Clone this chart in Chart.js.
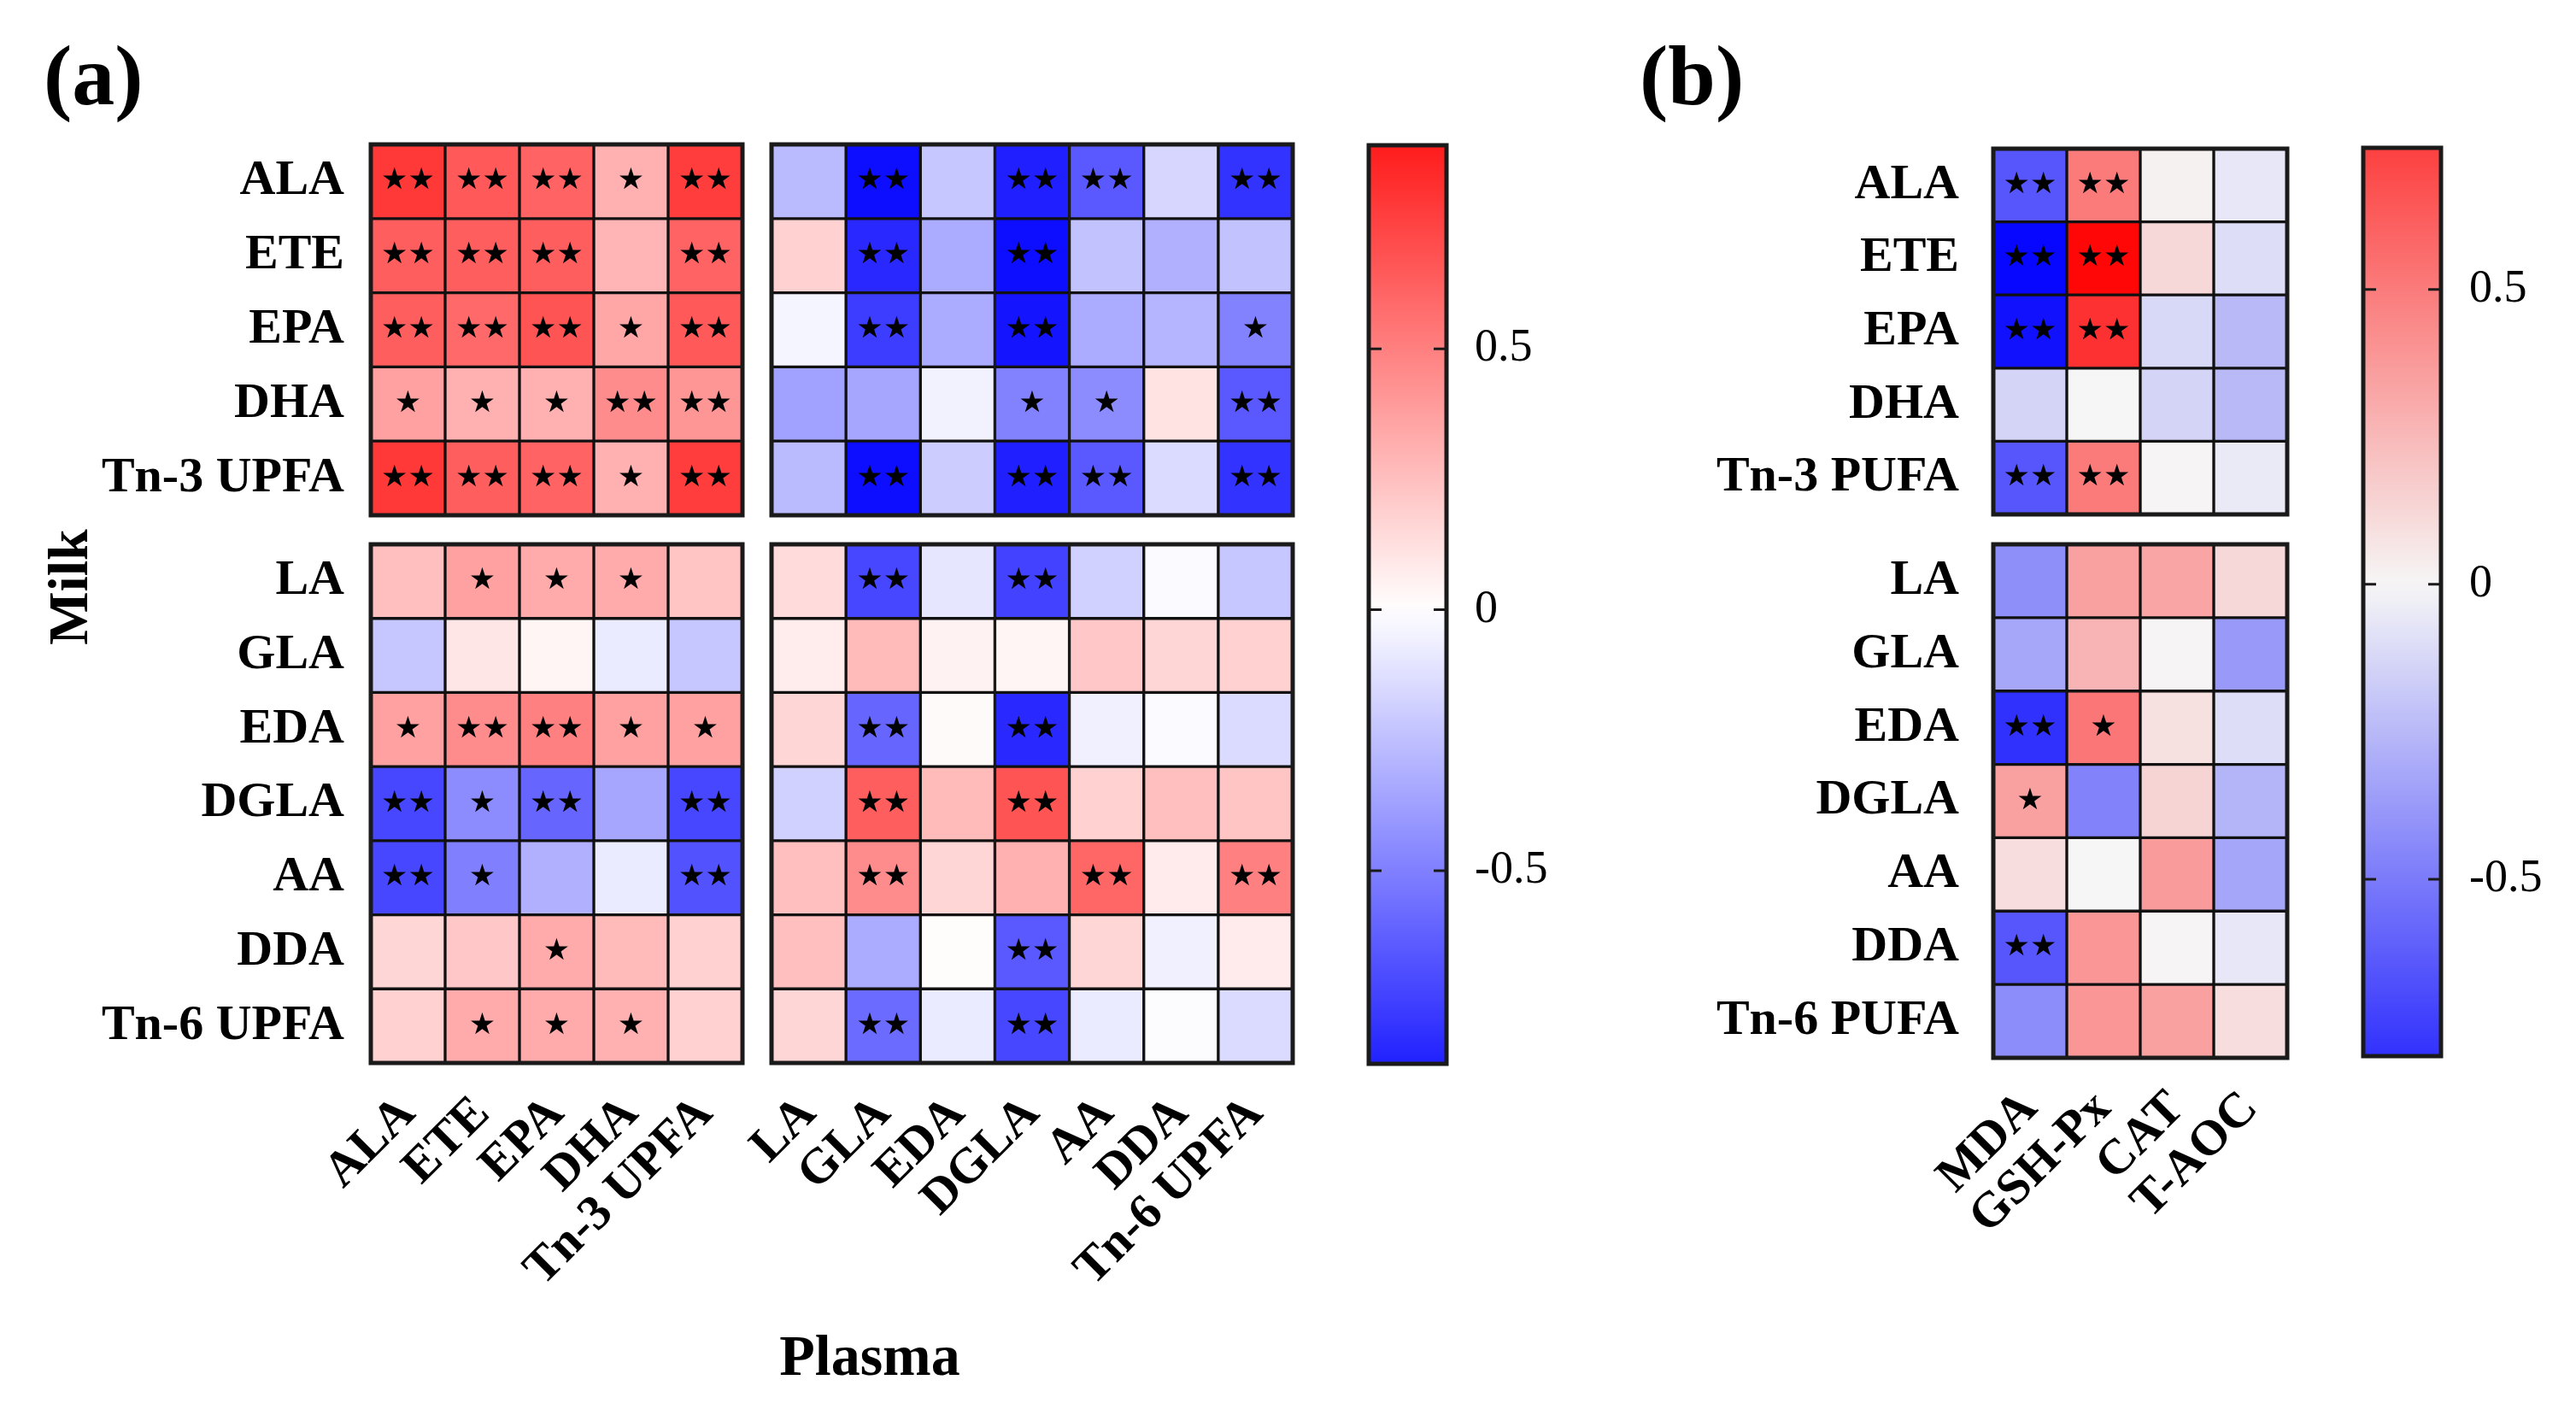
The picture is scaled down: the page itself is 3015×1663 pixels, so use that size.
<!DOCTYPE html>
<html>
<head>
<meta charset="utf-8">
<script src="https://cdn.jsdelivr.net/npm/chart.js@4.4.1/dist/chart.umd.min.js"></script>
<style>
  body { margin: 0; background: #fff; width: 3015px; height: 1663px; position: relative; overflow: hidden;
         font-family: "Liberation Serif", "Times New Roman", serif; }
  canvas { position: absolute; }
  .lbl { position: absolute; font-weight: bold; line-height: 1; white-space: nowrap; color: #000; }
</style>
</head>
<body>
<div class="lbl" style="left:51px;top:39px;font-size:100px">(a)</div>
<div class="lbl" style="left:1919px;top:39px;font-size:100px">(b)</div>
<div class="lbl" style="left:80px;top:687px;font-size:66px;transform:translate(-50%,-50%) rotate(-90deg)">Milk</div>
<div class="lbl" style="left:1018px;top:1586px;font-size:68px;transform:translate(-50%,-50%)">Plasma</div>

<canvas id="aTL"></canvas>
<canvas id="aTR"></canvas>
<canvas id="aBL"></canvas>
<canvas id="aBR"></canvas>
<canvas id="aBar"></canvas>
<canvas id="bT"></canvas>
<canvas id="bB"></canvas>
<canvas id="bBar"></canvas>

<script>
// Row / column names
const n3Names = ['ALA', 'ETE', 'EPA', 'DHA', 'Tn-3 UPFA'];
const n6Names = ['LA', 'GLA', 'EDA', 'DGLA', 'AA', 'DDA', 'Tn-6 UPFA'];
const n3NamesB = ['ALA', 'ETE', 'EPA', 'DHA', 'Tn-3 PUFA'];
const n6NamesB = ['LA', 'GLA', 'EDA', 'DGLA', 'AA', 'DDA', 'Tn-6 PUFA'];
const oxidNames = ['MDA', 'GSH-Px', 'CAT', 'T-AOC'];
const barTicks = [-0.5, 0, 0.5];

// (a) milk n-3 vs plasma n-3
const rN3N3 = [
    [0.78, 0.65, 0.61, 0.31, 0.76],
    [0.63, 0.63, 0.63, 0.29, 0.61],
    [0.63, 0.59, 0.67, 0.35, 0.65],
    [0.37, 0.31, 0.31, 0.45, 0.41],
    [0.78, 0.63, 0.61, 0.31, 0.76]
];
const sN3N3 = [
    ['**', '**', '**', '*', '**'],
    ['**', '**', '**', '', '**'],
    ['**', '**', '**', '*', '**'],
    ['*', '*', '*', '**', '**'],
    ['**', '**', '**', '*', '**']
];
// (a) milk n-3 vs plasma n-6
const rN3N6 = [
    [-0.27, -0.95, -0.22, -0.88, -0.65, -0.16, -0.80],
    [0.18, -0.84, -0.33, -0.95, -0.24, -0.31, -0.24],
    [-0.04, -0.76, -0.33, -0.92, -0.33, -0.29, -0.49],
    [-0.37, -0.35, -0.05, -0.49, -0.45, 0.11, -0.65],
    [-0.27, -0.95, -0.20, -0.88, -0.65, -0.14, -0.80]
];
const sN3N6 = [
    ['', '**', '', '**', '**', '', '**'],
    ['', '**', '', '**', '', '', ''],
    ['', '**', '', '**', '', '', '*'],
    ['', '', '', '*', '*', '', '**'],
    ['', '**', '', '**', '**', '', '**']
];
// (a) milk n-6 vs plasma n-3
const rN6N3 = [
    [0.25, 0.37, 0.33, 0.33, 0.23],
    [-0.22, 0.10, 0.04, -0.08, -0.22],
    [0.37, 0.45, 0.50, 0.37, 0.37],
    [-0.72, -0.45, -0.60, -0.35, -0.72],
    [-0.72, -0.50, -0.31, -0.08, -0.68],
    [0.16, 0.22, 0.33, 0.27, 0.18],
    [0.18, 0.33, 0.33, 0.31, 0.18]
];
const sN6N3 = [
    ['', '*', '*', '*', ''],
    ['', '', '', '', ''],
    ['*', '**', '**', '*', '*'],
    ['**', '*', '**', '', '**'],
    ['**', '*', '', '', '**'],
    ['', '', '*', '', ''],
    ['', '*', '*', '*', '']
];
// (a) milk n-6 vs plasma n-6
const rN6N6 = [
    [0.14, -0.72, -0.10, -0.74, -0.18, -0.02, -0.22],
    [0.07, 0.27, 0.05, 0.04, 0.22, 0.16, 0.18],
    [0.16, -0.60, 0.02, -0.84, -0.06, -0.02, -0.14],
    [-0.18, 0.63, 0.27, 0.67, 0.18, 0.25, 0.23],
    [0.25, 0.45, 0.16, 0.31, 0.60, 0.08, 0.50],
    [0.25, -0.33, 0.01, -0.65, 0.16, -0.06, 0.08],
    [0.16, -0.58, -0.08, -0.72, -0.08, -0.01, -0.14]
];
const sN6N6 = [
    ['', '**', '', '**', '', '', ''],
    ['', '', '', '', '', '', ''],
    ['', '**', '', '**', '', '', ''],
    ['', '**', '', '**', '', '', ''],
    ['', '**', '', '', '**', '', '**'],
    ['', '', '', '**', '', '', ''],
    ['', '**', '', '**', '', '', '']
];
// (b) milk n-3 vs oxidative indexes
const rN3Ox = [
    [-0.65, 0.50, 0.02, -0.06],
    [-0.97, 0.97, 0.12, -0.10],
    [-0.93, 0.80, -0.12, -0.25],
    [-0.14, 0.00, -0.14, -0.25],
    [-0.65, 0.50, 0.01, -0.05]
];
const sN3Ox = [
    ['**', '**', '', ''],
    ['**', '**', '', ''],
    ['**', '**', '', ''],
    ['', '', '', ''],
    ['**', '**', '', '']
];
// (b) milk n-6 vs oxidative indexes
const rN6Ox = [
    [-0.42, 0.35, 0.33, 0.12],
    [-0.32, 0.27, 0.01, -0.38],
    [-0.80, 0.52, 0.09, -0.10],
    [0.35, -0.47, 0.14, -0.27],
    [0.10, 0.00, 0.37, -0.33],
    [-0.65, 0.39, 0.01, -0.06],
    [-0.43, 0.39, 0.35, 0.10]
];
const sN6Ox = [
    ['', '', '', ''],
    ['', '', '', ''],
    ['**', '*', '', ''],
    ['*', '', '', ''],
    ['', '', '', ''],
    ['**', '', '', ''],
    ['', '', '', '']
];

const SERIF = '"Liberation Serif", "Times New Roman", serif';
const PAD = 8;

// blue - white - red
function corrColor(v, mid) {
    const m = mid || [255, 255, 255];
    const t = Math.min(Math.abs(v), 1);
    let c;
    if (v >= 0) c = [m[0] + (255 - m[0]) * t, m[1] * (1 - t), m[2] * (1 - t)];
    else c = [m[0] * (1 - t), m[1] * (1 - t), m[2] + (255 - m[2]) * t];
    return 'rgb(' + c.map(Math.round).join(',') + ')';
}

// keep chart.js from shrinking the grid for overhanging labels
function noMargins(s) {
    s.paddingLeft = 0; s.paddingRight = 0; s.paddingTop = 0; s.paddingBottom = 0;
}

// black frame round the plot area
const framePlugin = {
    id: 'frame',
    afterDatasetsDraw(chart) {
        const a = chart.chartArea, ctx = chart.ctx;
        ctx.save();
        ctx.strokeStyle = '#1a1a1a';
        ctx.lineWidth = 5;
        ctx.strokeRect(a.left, a.top, a.right - a.left, a.bottom - a.top);
        ctx.restore();
    }
};

// significance stars in the cells
const starPlugin = {
    id: 'stars',
    afterDatasetsDraw(chart, args, opts) {
        const marks = opts.marks;
        if (!marks) return;
        const ctx = chart.ctx;
        ctx.save();
        ctx.font = '35px "DejaVu Sans"';
        ctx.fillStyle = '#000';
        ctx.textAlign = 'center';
        ctx.textBaseline = 'middle';
        chart.data.datasets.forEach((ds, j) => {
            chart.getDatasetMeta(j).data.forEach((bar, i) => {
                const s = marks[i][j];
                if (!s) return;
                const p = bar.getProps(['x', 'y', 'base'], true);
                ctx.fillText(s.replace(/\*/g, '\u2605'), (p.x + p.base) / 2, p.y);
            });
        });
        ctx.restore();
    }
};

// small inner tick marks on the colour bars
const barTickPlugin = {
    id: 'barTicks',
    afterDatasetsDraw(chart) {
        const a = chart.chartArea, ctx = chart.ctx, ys = chart.scales.y;
        ctx.save();
        ctx.strokeStyle = '#1a1a1a';
        ctx.lineWidth = 3;
        barTicks.forEach(v => {
            const y = ys.getPixelForValue(v);
            ctx.beginPath();
            ctx.moveTo(a.left, y); ctx.lineTo(a.left + 15, y);
            ctx.moveTo(a.right - 15, y); ctx.lineTo(a.right, y);
            ctx.stroke();
        });
        ctx.restore();
    }
};

function place(cv, left, top, w, h) {
    cv.width = w; cv.height = h;
    cv.style.left = left + 'px'; cv.style.top = top + 'px';
    cv.style.width = w + 'px'; cv.style.height = h + 'px';
}

// area = [left, top, width, height] of the cell grid
function heatmap(id, area, rows, cols, values, marks, o) {
    const cv = document.getElementById(id);
    const yW = o.showY ? o.yW : 0, xH = o.showX ? o.xH : 0;
    const padL = PAD + (o.extraLeft || 0);
    place(cv, area[0] - yW - padL, area[1] - PAD, area[2] + yW + padL + PAD, area[3] + xH + 2 * PAD);
    const datasets = cols.map((c, j) => ({
        label: c,
        data: rows.map(() => 1),
        backgroundColor: rows.map((r, i) => corrColor(values[i][j], o.mid)),
        borderColor: '#111',
        borderWidth: 2,
        borderSkipped: false,
        barPercentage: 1,
        categoryPercentage: 1
    }));
    new Chart(cv, {
        type: 'bar',
        data: { labels: rows, datasets: datasets },
        options: {
            indexAxis: 'y',
            responsive: false,
            animation: false,
            devicePixelRatio: 1,
            layout: { padding: { left: padL, right: PAD, top: PAD, bottom: PAD } },
            plugins: { legend: { display: false }, tooltip: { enabled: false }, stars: { marks: marks } },
            scales: {
                x: {
                    stacked: true, min: 0, max: cols.length, display: o.showX,
                    grid: { display: false, drawTicks: false }, border: { display: false },
                    afterBuildTicks: s => { s.ticks = cols.map((c, i) => ({ value: i + 0.5 })); },
                    afterFit: s => { s.height = xH; noMargins(s); },
                    ticks: {
                        autoSkip: false, minRotation: 45, maxRotation: 45, padding: 26,
                        font: { family: SERIF, size: 58, weight: 'bold' }, color: '#000',
                        callback: v => cols[Math.floor(v)]
                    }
                },
                y: {
                    stacked: true, display: o.showY,
                    grid: { display: false, drawTicks: false }, border: { display: false },
                    afterFit: s => { s.width = yW; noMargins(s); },
                    ticks: { padding: o.yPad || 31, font: { family: SERIF, size: 58, weight: 'bold' }, color: '#000' }
                }
            }
        },
        plugins: [starPlugin, framePlugin]
    });
}

function colorBar(id, area, min, max, mid) {
    const cv = document.getElementById(id);
    const axW = 160;
    place(cv, area[0] - PAD, area[1] - PAD, area[2] + axW + 2 * PAD, area[3] + 2 * PAD);
    new Chart(cv, {
        type: 'bar',
        data: {
            labels: [''],
            datasets: [{
                data: [[min, max]],
                borderWidth: 0,
                barPercentage: 1,
                categoryPercentage: 1,
                backgroundColor: c => {
                    const ch = c.chart;
                    if (!ch.chartArea) return '#fff';
                    const ys = ch.scales.y;
                    const g = ch.ctx.createLinearGradient(0, ys.getPixelForValue(min), 0, ys.getPixelForValue(max));
                    for (let k = 0; k <= 40; k++) {
                        g.addColorStop(k / 40, corrColor(min + (max - min) * k / 40, mid));
                    }
                    return g;
                }
            }]
        },
        options: {
            responsive: false,
            animation: false,
            devicePixelRatio: 1,
            layout: { padding: PAD },
            plugins: { legend: { display: false }, tooltip: { enabled: false } },
            scales: {
                x: { display: false },
                y: {
                    min: min, max: max, position: 'right',
                    grid: { display: false, drawTicks: false }, border: { display: false },
                    afterBuildTicks: s => { s.ticks = barTicks.map(v => ({ value: v })); },
                    afterFit: s => { s.width = axW; noMargins(s); },
                    ticks: { padding: 33, font: { family: SERIF, size: 54 }, color: '#000', callback: v => String(v) }
                }
            }
        },
        plugins: [framePlugin, barTickPlugin]
    });
}

const greyMid = [246, 246, 246];

heatmap('aTL', [434, 169, 435, 434], n3Names, n3Names, rN3N3, sN3N3, { showY: true, yW: 430, showX: false });
heatmap('aTR', [903, 169, 610, 434], n3Names, n6Names, rN3N6, sN3N6, { showY: false, showX: false });
heatmap('aBL', [434, 637, 435, 607], n6Names, n3Names, rN6N3, sN6N3, { showY: true, yW: 430, showX: true, xH: 300 });
heatmap('aBR', [903, 637, 610, 607], n6Names, n6Names, rN6N6, sN6N6, { showY: false, showX: true, xH: 300, extraLeft: 120 });
colorBar('aBar', [1602, 170, 91, 1075], -0.87, 0.89);

heatmap('bT', [2333, 174, 344, 428], n3NamesB, oxidNames, rN3Ox, sN3Ox, { showY: true, yW: 330, yPad: 40, showX: false, mid: greyMid });
heatmap('bB', [2333, 637, 344, 601], n6NamesB, oxidNames, rN6Ox, sN6Ox, { showY: true, yW: 330, yPad: 40, showX: true, xH: 300, mid: greyMid });
colorBar('bBar', [2766, 173, 91, 1063], -0.80, 0.74, greyMid);
</script>
</body>
</html>
